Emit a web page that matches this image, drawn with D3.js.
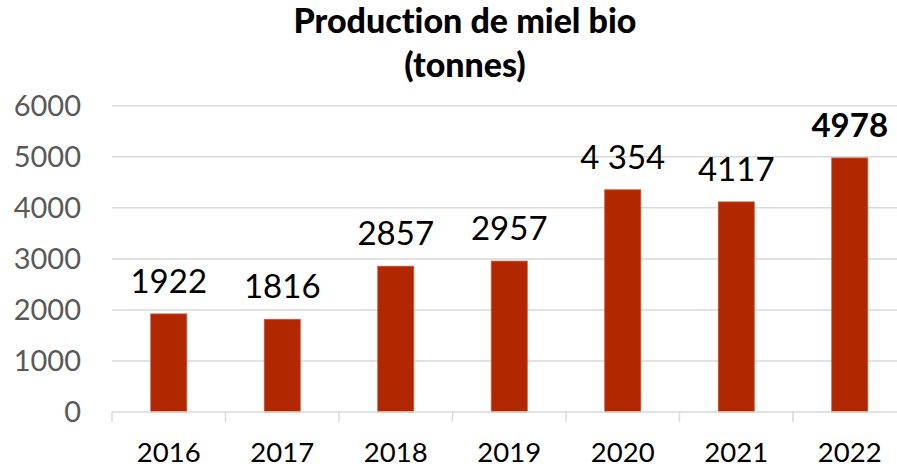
<!DOCTYPE html>
<html><head><meta charset="utf-8">
<script src="https://cdn.jsdelivr.net/npm/d3@7/dist/d3.min.js"></script>
<style>body{margin:0;background:#fff}svg{display:block}text{font-family:Lato,"Open Sans",sans-serif;font-variant-ligatures:none;font-feature-settings:"liga" 0}</style>
</head><body><svg id="c" width="897" height="468"></svg>
<script>
const categories = ["2016","2017","2018","2019","2020","2021","2022"];
const values = [1922,1816,2857,2957,4354,4117,4978];
const valueLabels = ["1922","1816","2857","2957","4 354","4117","4978"];
const yTicks = [0,1000,2000,3000,4000,5000,6000];
const titleLines = ["Production de miel bio","(tonnes)"];

const svg = d3.select("#c");
const x = d3.scaleBand().domain(categories).range([112, 906.5]).paddingInner(0).paddingOuter(0);
const y = d3.scaleLinear().domain([0,6000]).range([412, 105.8]);

svg.append("g").selectAll("line").data(yTicks.filter(d=>d>0)).join("line")
  .attr("x1",112).attr("x2",906.5).attr("y1",d=>y(d)).attr("y2",d=>y(d))
  .attr("stroke","#d9d9d9").attr("stroke-width",1.5);

svg.append("g").selectAll("text").data(yTicks).join("text")
  .attr("x",81).attr("y",d=>y(d)+10).attr("text-anchor","end")
  .attr("font-size",29).attr("fill","#595959").text(d=>d);

const bw = 36;
svg.append("g").selectAll("rect").data(values).join("rect")
  .attr("x",(d,i)=>x(categories[i])+x.bandwidth()/2-bw/2)
  .attr("width",bw)
  .attr("y",d=>y(d)).attr("height",d=>y(0)-y(d))
  .attr("fill","#B12700").attr("stroke","#c8553a").attr("stroke-width",0.8);

const ax = svg.append("g");
ax.append("line").attr("x1",112).attr("x2",906.5).attr("y1",y(0)).attr("y2",y(0))
  .attr("stroke","#d9d9d9").attr("stroke-width",1.5);
ax.selectAll("line.t").data(categories.concat(["end"])).join("line").attr("class","t")
  .attr("x1",(d,i)=>112+i*x.step()).attr("x2",(d,i)=>112+i*x.step())
  .attr("y1",y(0)).attr("y2",y(0)+10).attr("stroke","#d9d9d9").attr("stroke-width",1.5);
ax.selectAll("text").data(categories).join("text")
  .attr("x",d=>x(d)+x.bandwidth()/2).attr("y",462).attr("text-anchor","middle")
  .attr("font-size",27.5).attr("fill","#000").text(d=>d);

svg.append("g").selectAll("text").data(values).join("text")
  .attr("x",(d,i)=>x(categories[i])+x.bandwidth()/2).attr("y",d=>y(d)-21)
  .attr("text-anchor","middle").attr("font-size",33)
  .attr("font-weight",(d,i)=>i===values.length-1?"bold":"normal")
  .attr("fill","#000").text((d,i)=>valueLabels[i]);

svg.append("g").selectAll("text").data(titleLines).join("text")
  .attr("x",465).attr("y",(d,i)=>33+i*44).attr("text-anchor","middle")
  .attr("font-size",34).attr("font-weight","900").attr("fill","#000").text(d=>d);
</script></body></html>
